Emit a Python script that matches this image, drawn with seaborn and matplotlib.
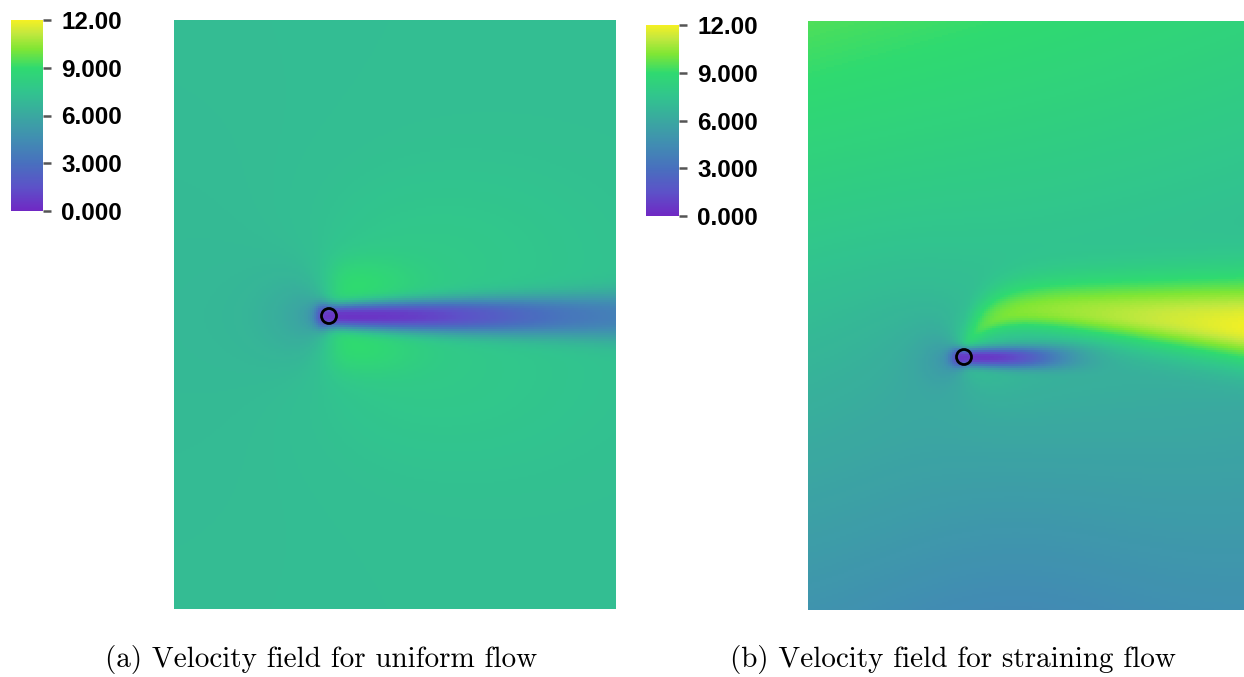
import numpy as np
import matplotlib
matplotlib.use("Agg")
import matplotlib.pyplot as plt
import seaborn as sns
from matplotlib.colors import LinearSegmentedColormap
from matplotlib.patches import Ellipse

# ---------------- data ----------------
# colour map stops (velocity value -> colour)
cmap_levels = [0.0, 1.5, 3.0, 4.5, 6.0, 7.5, 9.0, 10.2, 11.2, 12.0]
cmap_colors = ['#7028C4', '#5C52C8', '#4870BE', '#418DB2', '#3AA8A0',
               '#31C48E', '#2FDA70', '#80E634', '#C4E83E', '#F5F023']
cbar_ticks = [0, 3, 6, 9, 12]
cbar_labels = ['0.000', '3.000', '6.000', '9.000', '12.00']
vmin, vmax = 0.0, 12.0

captions = ['(a) Velocity field for uniform flow',
            '(b) Velocity field for straining flow']

# panel (a): uniform flow around a cylinder (lengths in pixels of the picture)
a_free_speed = 7.1            # free-stream speed
a_source = [5.0, 7.0]         # displacement source strength, core radius
a_lobes = [1.1, 20.0, 34.0, 65.0, 25.0, 25.0]   # amp, x, |y|, x-width down, x-width up, y-width
a_wide_lobes = [0.45, 120.0, 60.0, 160.0, 90.0]  # amp, x, |y|, x-width, y-width
a_front_dip = [0.35, -25.0, 45.0]               # depth, x centre, radius
a_wake_depth = [0.95, 0.42]   # fractional wake deficit: near, far
a_wake_len = [210.0, 2.5]     # decay length, decay exponent
a_wake_sigma = [12.0, 0.04]   # wake half width: at body, growth rate
a_wake_shape = 2.4            # profile exponent (flat-topped)
a_wake_start = [-11.0, 3.0]   # onset x, onset softness

# panel (b): straining flow (background corner values TL, TR, BL, BR)
b_corners = [9.5, 8.4, 5.0, 4.7]
b_bottom_dip = [0.55, 40.0, 150.0]   # depth, x centre, width
b_source = [4.0, 6.0]
b_front_dip = [0.4, -20.0, 30.0]
b_wake_depth = [0.93, 0.0]
b_wake_len = [100.0, 3.0]
b_wake_sigma = [9.5, 0.03]
b_wake_shape = 2.4
b_wake_start = [-11.0, 3.0]
b_jet_amp = [2.6, 0.0098]            # amplitude: base, growth per px
b_jet_path = [-14.0, -55.0, 28.0, 0.09]  # y0, y_far, bend length, slope
b_jet_sigma_up = [17.0, 0.07]
b_jet_sigma_low = [9.0, 0.06]
b_jet_start = [0.0, 10.0]

cyl_radius = 7.5

# ---------------- layout (pixels of a 1244x677 canvas) ----------------
W, H = 1244, 677
a_box = (174, 616, 20, 609)      # left, right, top, bottom
b_box = (808, 1244, 21, 610)
a_cyl = (329, 316)
b_cyl = (964, 357)
a_cbar = (11, 43, 20, 211)
b_cbar = (646, 679, 25, 216)
STEP = 2


def grid(box, cyl):
    l, r, t, b = box
    nx = int((r - l) / STEP)
    ny = int((b - t) / STEP)
    xs = l + (np.arange(nx) + 0.5) * (r - l) / nx - cyl[0]
    ys = t + (np.arange(ny) + 0.5) * (b - t) / ny - cyl[1]
    X, Y = np.meshgrid(xs, ys)
    return X, Y, nx, ny


def source_factor(X, Y, src):
    b, c = src
    r2 = X**2 + Y**2 + c**2
    u = 1 + b * X / r2
    v = b * Y / r2
    return np.sqrt(u**2 + v**2)


def bump(X, Y, p):
    depth, xc, rad = p
    return depth * np.exp(-((X - xc)**2 + Y**2) / rad**2)


def wake(X, Y, depth, length, sigma, shape, start):
    xp = np.clip(X, 0, None)
    d = depth[1] + (depth[0] - depth[1]) * np.exp(-(xp / length[0]) ** length[1])
    s = sigma[0] + sigma[1] * xp
    on = 1 / (1 + np.exp(-(X - start[0]) / start[1]))
    return d * np.exp(-(np.abs(Y) / s) ** shape) * on


def field_a():
    X, Y, nx, ny = grid(a_box, a_cyl)
    S = source_factor(X, Y, a_source)
    amp, lx, ly, wdn, wup, wy = a_lobes
    wx = np.where(X > lx, wdn, wup)
    lobes = amp * np.exp(-((X - lx) / wx)**2 - ((np.abs(Y) - ly) / wy)**2)
    amp2, lx2, ly2, wx2, wy2 = a_wide_lobes
    lobes += amp2 * np.exp(-((X - lx2) / wx2)**2 - ((np.abs(Y) - ly2) / wy2)**2)
    base = a_free_speed * S + lobes - bump(X, Y, a_front_dip)
    w = wake(X, Y, a_wake_depth, a_wake_len, a_wake_sigma, a_wake_shape, a_wake_start)
    return np.clip(base * (1 - w), vmin, vmax), nx, ny


def field_b():
    X, Y, nx, ny = grid(b_box, b_cyl)
    l, r, t, b = b_box
    fx = (X + b_cyl[0] - l) / (r - l)
    fy = (Y + b_cyl[1] - t) / (b - t)
    tl, tr, bl, br = b_corners
    base = (tl * (1 - fx) * (1 - fy) + tr * fx * (1 - fy)
            + bl * (1 - fx) * fy + br * fx * fy)
    base -= b_bottom_dip[0] * np.exp(-((X - b_bottom_dip[1]) / b_bottom_dip[2]) ** 2) * fy**2
    S = source_factor(X, Y, b_source)
    w = wake(X, Y, b_wake_depth, b_wake_len, b_wake_sigma, b_wake_shape, b_wake_start)
    xp = np.clip(X, 0, None)
    y0, yf, lc, sl = b_jet_path
    yc = yf + (y0 - yf) * np.exp(-xp / lc) + sl * xp
    su = b_jet_sigma_up[0] + b_jet_sigma_up[1] * xp
    sd = b_jet_sigma_low[0] + b_jet_sigma_low[1] * xp
    sj = np.where(Y < yc, su, sd)
    amp = b_jet_amp[0] + b_jet_amp[1] * xp
    on = 1 / (1 + np.exp(-(X - b_jet_start[0]) / b_jet_start[1]))
    jet = amp * np.exp(-(Y - yc) ** 2 / (2 * sj**2)) * on
    val = (base * S - bump(X, Y, b_front_dip) + jet) * (1 - w)
    return np.clip(val, vmin, vmax), nx, ny


cmap = LinearSegmentedColormap.from_list(
    'flow', [(v / vmax, c) for v, c in zip(cmap_levels, cmap_colors)])

fig = plt.figure(figsize=(W / 100, H / 100), dpi=100)


def frac(box):
    l, r, t, b = box
    return [l / W, 1 - b / H, (r - l) / W, (b - t) / H]


caption_x = [321, 953]
caption_y = 659

for k, (box, cyl, cbox, fn) in enumerate([(a_box, a_cyl, a_cbar, field_a),
                                          (b_box, b_cyl, b_cbar, field_b)]):
    ax = fig.add_axes(frac(box))
    cax = fig.add_axes(frac(cbox))
    data, nx, ny = fn()
    sns.heatmap(data, ax=ax, cmap=cmap, vmin=vmin, vmax=vmax,
                xticklabels=False, yticklabels=False, cbar_ax=cax,
                rasterized=True)
    ax.set_xlabel('')
    ax.set_ylabel('')
    for s in ax.spines.values():
        s.set_visible(False)
    l, r, t, b = box
    dx = (r - l) / nx
    dy = (b - t) / ny
    ax.add_patch(Ellipse(((cyl[0] - l) / dx, (cyl[1] - t) / dy),
                         2 * cyl_radius / dx, 2 * cyl_radius / dy,
                         fill=False, edgecolor='black', lw=2.0, zorder=5))
    cb = ax.collections[0].colorbar
    cb.outline.set_visible(False)
    cb.set_ticks(cbar_ticks)
    cb.set_ticklabels(cbar_labels)
    cax.tick_params(length=6, width=1.8, color='#555555', pad=7)
    for lab in cax.get_yticklabels():
        lab.set_fontfamily('Liberation Sans')
        lab.set_fontweight('bold')
        lab.set_fontsize(17.5)
        lab.set_color('black')
    fig.text(caption_x[k] / W, 1 - caption_y / H, captions[k],
             ha='center', va='center', fontsize=21, family='cmr10')

fig.savefig('out.png', dpi=100)
